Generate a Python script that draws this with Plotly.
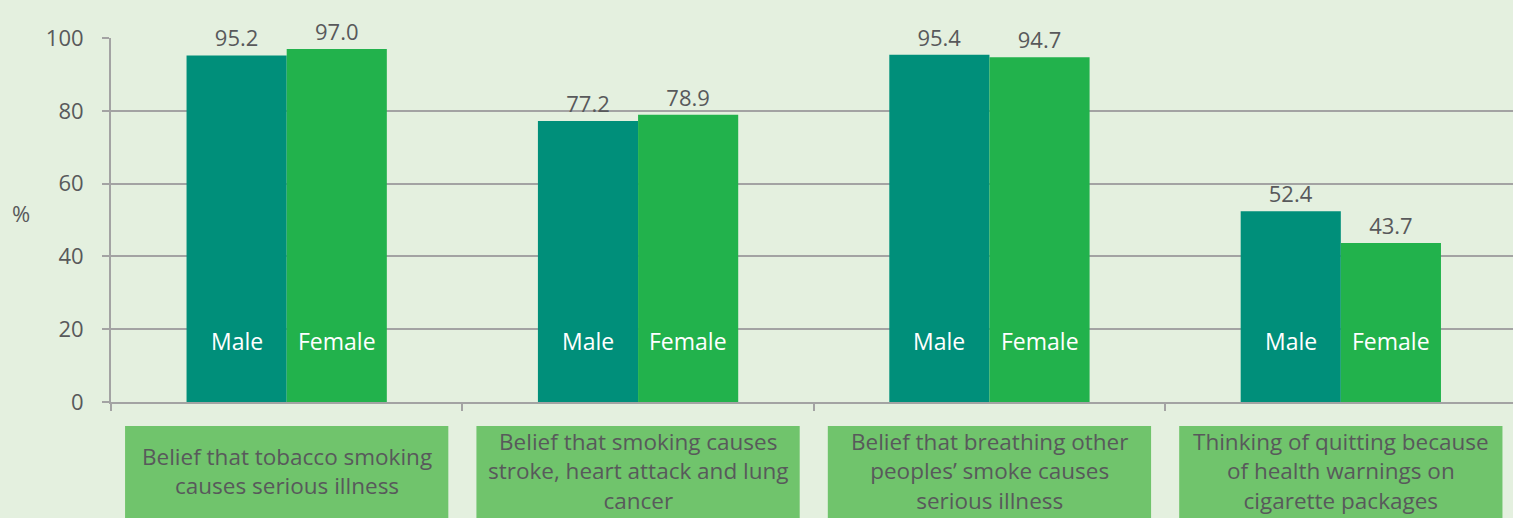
import plotly.graph_objects as go

categories = [
    "Belief that tobacco smoking<br>causes serious illness",
    "Belief that smoking causes<br>stroke, heart attack and lung<br>cancer",
    "Belief that breathing other<br>peoples’ smoke causes<br>serious illness",
    "Thinking of quitting because<br>of health warnings on<br>cigarette packages",
]
male = [95.2, 77.2, 95.4, 52.4]
female = [97.0, 78.9, 94.7, 43.7]
series_names = ["Male", "Female"]
y_ticks = [0, 20, 40, 60, 80, 100]

BG = "#E4F0DF"
TEAL = "#008F7A"
GREEN = "#22B24C"
BOX = "#70C46C"
TXT = "#58595B"
GRID = "#A3A3A3"
FONT = "Open Sans"

xs = list(range(len(categories)))
bw = 0.285

fig = go.Figure()
for name, vals, col, off in [(series_names[0], male, TEAL, -bw), (series_names[1], female, GREEN, 0.0)]:
    fig.add_trace(go.Bar(
        x=xs, y=vals, name=name, width=bw, offset=off,
        marker=dict(color=col, line=dict(width=0)),
        text=[f"{v:.1f}" for v in vals], textposition="outside",
        textfont=dict(family=FONT, size=22, color=TXT),
        cliponaxis=False, showlegend=False,
    ))

annotations = []
for i in xs:
    for name, off in [(series_names[0], -bw / 2), (series_names[1], bw / 2)]:
        annotations.append(dict(
            x=i + off, y=16.8, xref="x", yref="y", text=name, showarrow=False,
            font=dict(family=FONT, size=23, color="white"),
        ))
    annotations.append(dict(
        x=i, y=-0.19, xref="x", yref="paper", text=categories[i], showarrow=False,
        yanchor="middle", align="center",
        font=dict(family=FONT, size=22.5, color=TXT),
    ))

annotations.append(dict(
    x=0, y=52, xref="paper", yref="y", xshift=-101, text="%", showarrow=False,
    xanchor="left", font=dict(family=FONT, size=22, color=TXT),
))

shapes = []
for i in xs:
    shapes.append(dict(
        type="rect", xref="x", yref="paper", x0=i - 0.46, x1=i + 0.46,
        y0=-0.066, y1=-0.4, fillcolor=BOX, line=dict(width=0), layer="below",
    ))

fig.update_layout(
    width=1513, height=518,
    margin=dict(l=111, r=0, t=38, b=116),
    paper_bgcolor=BG, plot_bgcolor=BG,
    barmode="overlay",
    annotations=annotations, shapes=shapes,
    font=dict(family=FONT, color=TXT),
)
fig.update_xaxes(
    range=[-0.5, 3.49], tickvals=[-0.5, 0.5, 1.5, 2.5, 3.5], showticklabels=False,
    ticks="outside", ticklen=7, tickwidth=2, tickcolor=GRID,
    showline=True, linecolor=GRID, linewidth=2, showgrid=False, zeroline=False,
)
fig.update_yaxes(
    range=[0, 100], tickvals=y_ticks, ticks="outside", ticklen=7, tickwidth=2,
    tickcolor=GRID, showline=True, linecolor=GRID, linewidth=2,
    showgrid=True, gridcolor=GRID, gridwidth=2, zeroline=False,
    tickfont=dict(family=FONT, size=22, color=TXT), ticklabelstandoff=14,
)

fig.write_html(
    "out.html",
    config={"displayModeBar": False},
    post_script="document.body.style.margin='0';document.body.style.overflow='hidden';",
)
